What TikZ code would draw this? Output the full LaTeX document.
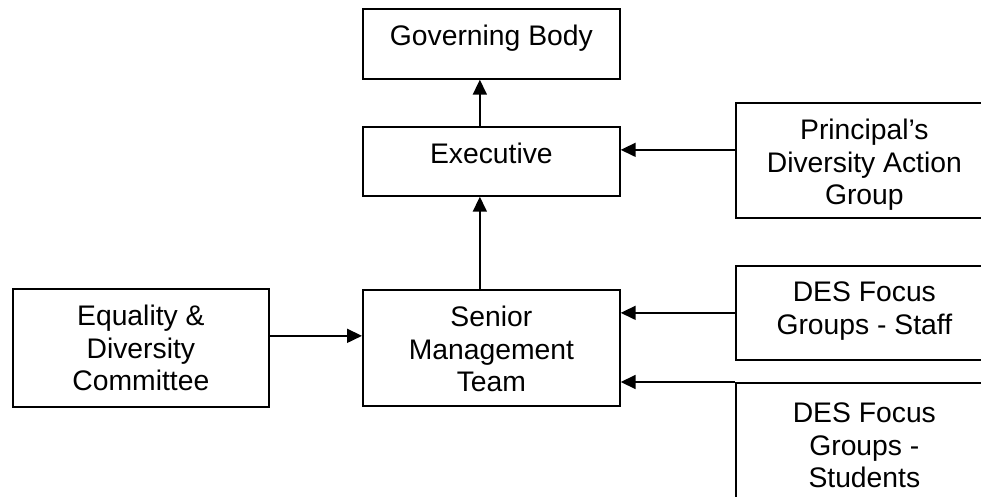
\documentclass[tikz,border=0pt]{standalone}
\usepackage{fontspec}
\setmainfont{Liberation Sans}
\usetikzlibrary{arrows.meta,calc}
\begin{document}
\begin{tikzpicture}[x=1pt,y=-1pt,
  box/.style={draw=black,line width=1.7pt,rectangle,inner sep=0pt,anchor=north west},
  lbl/.style={anchor=north,inner sep=0pt,align=center,font=\fontsize{28.3}{32.5}\selectfont},
  arr/.style={line width=1.7pt,-{Triangle[length=15pt,width=14pt]}}]
\useasboundingbox (0,0) rectangle (981,497);
\clip (0,0) rectangle (981,497);
% boxes
\node[box,minimum width=257pt,minimum height=70pt] (gb) at (362,8) {};
\node[box,minimum width=257pt,minimum height=69pt] (ex) at (362,126) {};
\node[box,minimum width=257pt,minimum height=116pt] (smt) at (362,289) {};
\node[box,minimum width=256pt,minimum height=118pt] (edc) at (12,288) {};
\node[box,minimum width=257pt,minimum height=115pt] (pdag) at (735,102) {};
\node[box,minimum width=257pt,minimum height=94pt] (staff) at (735,265) {};
\node[box,minimum width=257pt,minimum height=150pt] (stud) at (735,382) {};
% labels
\node[lbl] (tgb) at ([yshift=-17pt]gb.north) {Governing Body};
\node[lbl] (tex) at ([yshift=-17pt]ex.north) {Executive};
\node[lbl] (tsmt) at ([yshift=-17pt]smt.north) {Senior\\Management\\Team};
\node[lbl] (tedc) at ([yshift=-17pt]edc.north) {Equality \&\\Diversity\\Committee};
\node[lbl] (tpdag) at ([yshift=-17pt]pdag.north) {Principal’s\\Diversity Action\\Group};
\node[lbl] (tstaff) at ([yshift=-17pt]staff.north) {DES Focus\\Groups - Staff};
\node[lbl] (tstud) at ([yshift=-21pt]stud.north) {DES Focus\\Groups -\\Students};
% connectors
\draw[arr] ([xshift=-11.5pt]ex.north) coordinate (a1) -- (a1 |- gb.south);
\draw[arr] ([xshift=-11.5pt]smt.north) coordinate (a2) -- (a2 |- ex.south);
\draw[arr] ([yshift=12pt]edc.east) coordinate (a3) -- (a3 -| smt.west);
\draw[arr] ([yshift=10.5pt]pdag.west) coordinate (a4) -- (a4 -| ex.east);
\draw[arr] (staff.west) -- (staff.west -| smt.east);
\draw[arr] (stud.north west) -- (stud.north west -| smt.east);
\end{tikzpicture}
\end{document}
